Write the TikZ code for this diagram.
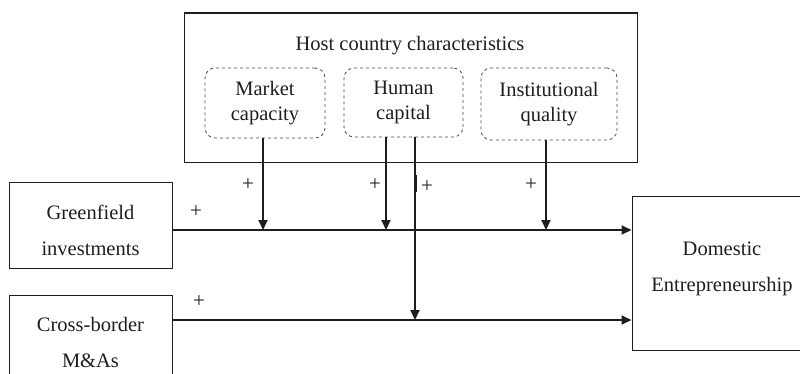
\documentclass[tikz,border=0pt]{standalone}
\usepackage{fontspec}
\setmainfont{Liberation Serif}
\usetikzlibrary{arrows.meta}
\definecolor{ink}{HTML}{1E1E1E}
\begin{document}
\begin{tikzpicture}[x=1pt,y=-1pt,
  every node/.style={text=ink, font=\fontsize{20.5}{25}\selectfont},
  outerbox/.style={draw=ink, line width=1pt, inner sep=0pt},
  boxtext/.style={align=center, inner sep=0pt, font=\fontsize{20.5}{36}\selectfont},
  factorbox/.style={draw=ink!80, dashed, line width=0.8pt, rounded corners=10pt,
     inner sep=0pt, align=center},
  flow/.style={draw=ink, line width=1.8pt, -{Triangle[length=10pt,width=9pt]}},
  sign/.style={inner sep=0pt, font=\fontsize{21}{21}\selectfont}
]
\useasboundingbox (0,0) rectangle (800,373);
\clip (0,0) rectangle (800,373);

% moderator block
\node[outerbox, minimum width=453pt, minimum height=149pt, anchor=north west]
  (host) at (184,13) {};
\draw[ink, line width=1.8pt] (host.north west) -- (host.north east);
\node (title) at (410,46) {Host country characteristics};
\node[factorbox, minimum width=120pt, minimum height=70pt] (market) at (265,103)
  {Market\\capacity};
\node[factorbox, minimum width=119pt, minimum height=69pt] (human) at (403.5,102.5)
  {Human\\capital};
\node[factorbox, minimum width=136pt, minimum height=72pt] (inst) at (549,104)
  {Institutional\\quality};

% entry modes and outcome
\node[outerbox, minimum width=163pt, minimum height=86pt] (green) at (90.5,225) {};
\node[boxtext] (greenText) at (90.5,230) {Greenfield\\investments};
\node[outerbox, minimum width=163pt, minimum height=95pt] (cross) at (90.5,342.5) {};
\node[boxtext] (crossText) at (90.5,342.5) {Cross-border\\M\&As};
\node[outerbox, minimum width=180pt, minimum height=154pt] (dom) at (722,273) {};
\node[boxtext] (domText) at (722,268.5) {Domestic\\Entrepreneurship};

% row and column guides
\coordinate (rowA) at (0,230);
\coordinate (rowB) at (0,320);
\coordinate (colA) at (263,0);
\coordinate (colB) at (386,0);
\coordinate (colC) at (415,0);
\coordinate (colD) at (546,0);

% main effects
\draw[flow] (green.east |- rowA) -- (dom.west |- rowA);
\draw[flow] (cross.east |- rowB) -- (dom.west |- rowB);

% moderating effects
\draw[flow] (market.south -| colA) -- (colA |- rowA);
\draw[flow] (human.south -| colB) -- (colB |- rowA);
\draw[flow] (human.south -| colC) -- (colC |- rowB);
\draw[flow] (inst.south -| colD) -- (colD |- rowA);
\coordinate (tickTop) at (416.5,175);
\coordinate (tickBot) at (416.5,192);
\draw[ink, line width=1.8pt] (tickTop) -- (tickBot);

% signs
\node[sign] (s1) at (248,185) {+};
\node[sign] (s2) at (375,185) {+};
\node[sign] (s3) at (427,187) {+};
\node[sign] (s4) at (531,185) {+};
\node[sign] (s5) at (196,212) {+};
\node[sign] (s6) at (199,302) {+};
\end{tikzpicture}
\end{document}
